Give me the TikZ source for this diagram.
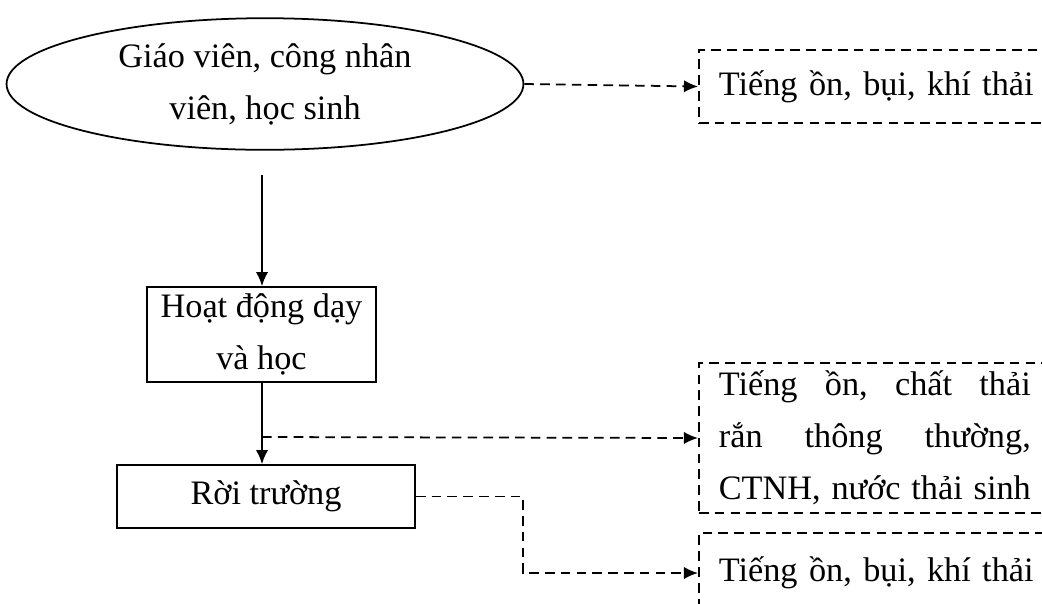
\documentclass[tikz,border=0pt]{standalone}
\usepackage{fontspec}
\setmainfont{Liberation Serif}
\usetikzlibrary{shapes.geometric, arrows.meta}

\tikzset{
    txt/.style={font=\fontsize{19.5}{29.5}\selectfont},
    solidbox/.style={draw, line width=1pt, txt, align=center},
    dashbox/.style={draw, line width=1pt, dash pattern=on 5.5pt off 3.5pt, txt,
        anchor=west, text width=6.6cm, inner xsep=0.4cm, align=left},
    arr/.style={-{Latex[length=8pt, width=7pt]}, line width=1pt},
    darr/.style={arr, dash pattern=on 5.5pt off 3.5pt}
}
\newcommand{\jline}[1]{\leavevmode\hbox to 6.24cm{#1}}

\begin{document}
\begin{tikzpicture}[x=0.02cm, y=-0.02cm]
        \path[use as bounding box, clip] (0, 0) rectangle (1042, 603);

        \node[draw, ellipse, line width=1pt, txt, align=center, minimum width=10.34cm, minimum height=2cm] at (265, 84) (ev) {Giáo viên, công nhân\\viên, học sinh};
        \node[solidbox, minimum width=4.58cm, minimum height=1.9cm] at (261.5, 334.5) (hd) {Hoạt động dạy\\và học};
        \node[solidbox, minimum width=5.96cm, minimum height=1.26cm] at (266, 496.5) (rt) {Rời trường};

        \node[dashbox, minimum height=1.46cm] at (698, 86.5) (k1) {Tiếng ồn, bụi, khí thải};
        \node[dashbox, minimum height=3cm] at (698, 438) (k2) {\jline{Tiếng\hfill ồn,\hfill chất\hfill thải}\\\jline{rắn\hfill thông\hfill thường,}\\\jline{CTNH,\hfill nước\hfill thải\hfill sinh}};
        \node[dashbox, minimum height=1.6cm] at (698, 573) (k3) {Tiếng ồn, bụi, khí thải};

        \coordinate (s1) at (262, 175);
        \coordinate (s2) at (262, 437);

        \draw[darr] (ev.east) -- (k1.west);
        \draw[arr] (s1) -- (hd.north -| s1);
        \draw[arr] (hd.south -| s1) -- (rt.north -| s1);
        \draw[darr] (s2) -- (k2.west);
        \draw[darr] (rt.east) -- ++(107, 0) |- (k3.west);
    \end{tikzpicture}
\end{document}
